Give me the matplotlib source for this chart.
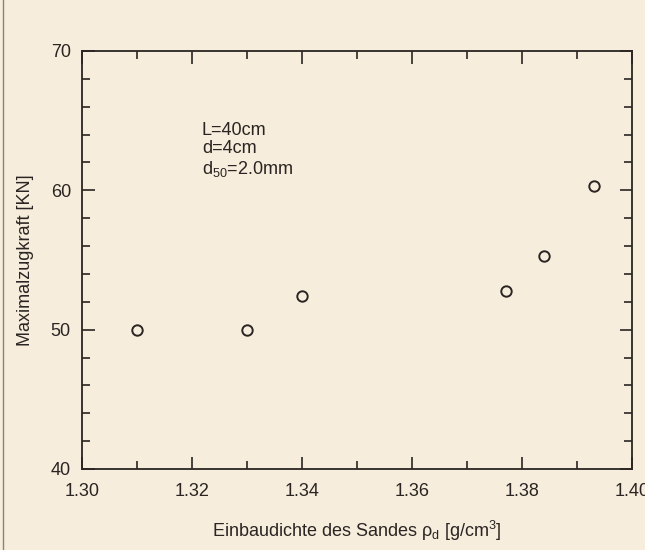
import matplotlib
matplotlib.use("Agg")
import matplotlib.pyplot as plt
from matplotlib.lines import Line2D
from matplotlib.ticker import MultipleLocator

# Data
density = [1.310, 1.330, 1.340, 1.377, 1.384, 1.393]   # g/cm^3
max_force = [50.0, 50.0, 52.4, 52.8, 55.3, 60.3]       # kN

x_ticks = [1.30, 1.32, 1.34, 1.36, 1.38, 1.40]
x_tick_labels = ["1.30", "1.32", "1.34", "1.36", "1.38", "1.40"]
y_ticks = [40, 50, 60, 70]

plt.rcParams['font.family'] = ['Liberation Sans', 'DejaVu Sans']
plt.rcParams['mathtext.default'] = 'regular'

paper = '#f7eddc'
ink = '#2a2522'

fig = plt.figure(figsize=(6.45, 5.5), dpi=100, facecolor=paper)
ax = fig.add_axes([82 / 645, 81 / 550, 550 / 645, 418 / 550])
ax.set_facecolor(paper)

# page edge visible in the scan
fig.add_artist(Line2D([3 / 645, 3 / 645], [0, 1], transform=fig.transFigure,
                      color='#8a827a', linewidth=1.0))

ax.plot(density, max_force, linestyle='none', marker='o', markersize=7.5,
        markerfacecolor='none', markeredgecolor=ink, markeredgewidth=1.4,
        clip_on=False)

ax.set_xlim(1.30, 1.40)
ax.set_ylim(40, 70)
ax.set_xticks(x_ticks)
ax.set_xticklabels(x_tick_labels)
ax.set_yticks(y_ticks)
ax.xaxis.set_minor_locator(MultipleLocator(0.01))
ax.yaxis.set_minor_locator(MultipleLocator(2))

ax.tick_params(which='both', direction='in', top=True, right=True,
               colors=ink, labelsize=13, width=1.2)
ax.tick_params(which='major', length=9)
ax.tick_params(which='minor', length=6)
ax.tick_params(axis='x', which='major', pad=10)
ax.tick_params(axis='y', which='major', pad=8)
for spine in ax.spines.values():
    spine.set_linewidth(1.3)
    spine.set_color(ink)

ax.set_xlabel('Einbaudichte des Sandes ρ$_d$ [g/cm$^3$]', fontsize=13,
              color=ink, labelpad=14)
ax.set_ylabel('Maximalzugkraft [KN]', fontsize=13, color=ink, labelpad=12)

ax.text(0.218, 0.83, 'L=40cm\nd=4cm\nd$_{50}$=2.0mm', transform=ax.transAxes,
        fontsize=13, color=ink, va='top', ha='left', linespacing=1.1)

fig.savefig('out.png', dpi=100, facecolor=paper)
